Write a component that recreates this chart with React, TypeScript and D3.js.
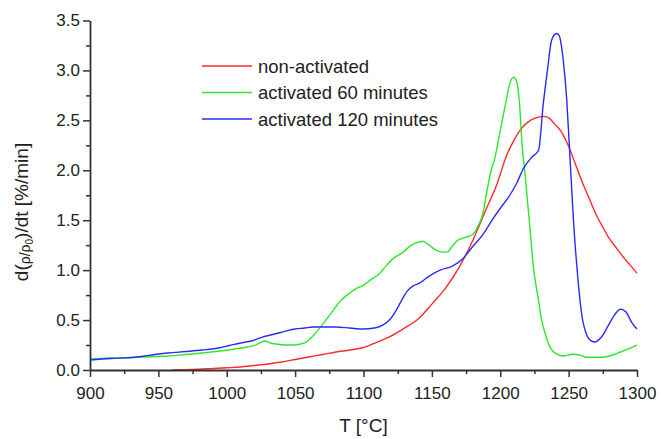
import React, { useEffect, useRef } from "react";
import * as d3 from "d3";

const xTicks = [900, 950, 1000, 1050, 1100, 1150, 1200, 1250, 1300];
const yTicks = [0, 0.5, 1.0, 1.5, 2.0, 2.5, 3.0, 3.5];
const seriesNames = ["non-activated", "activated 60 minutes", "activated 120 minutes"];
const seriesColors = ["#ff2a2a", "#2ae82a", "#2a2aff"];

const nonActivated: [number, number][] = [
  [960, 0], [975, 0.005], [990, 0.015], [1000, 0.022], [1010, 0.03], [1020, 0.045], [1030, 0.06],
  [1040, 0.08], [1050, 0.105], [1060, 0.13], [1070, 0.155], [1080, 0.18], [1090, 0.2], [1100, 0.225],
  [1110, 0.28], [1120, 0.34], [1130, 0.42], [1140, 0.51], [1150, 0.66], [1160, 0.82], [1170, 1.03],
  [1180, 1.3], [1190, 1.62], [1197, 1.84], [1205, 2.16], [1210, 2.3], [1215, 2.41], [1220, 2.48],
  [1225, 2.52], [1232, 2.54], [1236, 2.52], [1240, 2.46], [1244, 2.4], [1250, 2.24], [1255, 2.06],
  [1260, 1.88], [1265, 1.72], [1270, 1.56], [1275, 1.43], [1280, 1.31], [1285, 1.22], [1290, 1.13],
  [1295, 1.05], [1300, 0.97],
];

const activated60: [number, number][] = [
  [900, 0.11], [915, 0.12], [933, 0.127], [957, 0.14], [970, 0.155], [982, 0.17], [995, 0.19],
  [1006, 0.21], [1015, 0.23], [1021, 0.25], [1024, 0.27], [1028, 0.29], [1032, 0.27], [1036, 0.26],
  [1042, 0.25], [1049, 0.25], [1054, 0.26], [1058, 0.28], [1063, 0.34], [1068, 0.42], [1073, 0.51],
  [1078, 0.6], [1083, 0.69], [1088, 0.75], [1094, 0.81], [1100, 0.85], [1106, 0.91], [1112, 0.97],
  [1117, 1.05], [1122, 1.12], [1128, 1.17], [1134, 1.24], [1138, 1.27], [1143, 1.29], [1148, 1.25],
  [1153, 1.2], [1158, 1.18], [1161, 1.18], [1165, 1.24], [1169, 1.3], [1175, 1.33], [1180, 1.36],
  [1184, 1.45], [1187, 1.55], [1190, 1.77], [1193, 1.98], [1196, 2.12], [1200, 2.4], [1203.5, 2.64],
  [1207, 2.87], [1209.5, 2.93], [1212, 2.89], [1214, 2.68], [1216, 2.25], [1218, 1.98], [1220, 1.68],
  [1222, 1.38], [1224, 1.06], [1226, 0.86], [1228, 0.7], [1230, 0.52], [1232.7, 0.37], [1236, 0.24],
  [1239, 0.18], [1243, 0.15], [1246, 0.14], [1253, 0.157], [1258, 0.15], [1263, 0.127], [1273, 0.127],
  [1280, 0.14], [1284, 0.16], [1288, 0.18], [1295, 0.22], [1300, 0.25],
];

const activated120: [number, number][] = [
  [900, 0.1], [915, 0.115], [933, 0.127], [945, 0.15], [957, 0.17], [970, 0.185], [982, 0.2],
  [994, 0.22], [1002, 0.245], [1010, 0.27], [1018, 0.29], [1026, 0.33], [1035, 0.36], [1043, 0.39],
  [1050, 0.41], [1057, 0.42], [1063, 0.43], [1070, 0.43], [1080, 0.43], [1090, 0.42], [1100, 0.41],
  [1108, 0.42], [1114, 0.45], [1119, 0.5], [1124, 0.6], [1128, 0.7], [1132, 0.79], [1136, 0.84],
  [1141, 0.87], [1148, 0.94], [1156, 1.0], [1165, 1.04], [1173, 1.12], [1180, 1.24], [1187, 1.35],
  [1194, 1.5], [1200, 1.62], [1207, 1.75], [1212, 1.87], [1217, 2.02], [1223, 2.13], [1228, 2.2],
  [1231.5, 2.67], [1234.5, 3.0], [1237.5, 3.3], [1241, 3.37], [1243, 3.35], [1246, 3.11],
  [1248.6, 2.71], [1250.5, 2.25], [1252.5, 1.75], [1254, 1.4], [1256, 1.04], [1258.3, 0.7],
  [1260, 0.52], [1262, 0.4], [1265.6, 0.3], [1269, 0.28], [1274, 0.33], [1280, 0.47], [1284, 0.56],
  [1288, 0.61], [1292, 0.58], [1296, 0.48], [1300, 0.41],
];

const allSeries = [nonActivated, activated60, activated120];

const W = 661;
const H = 439;
const M = { left: 90, right: 24, top: 20.5, bottom: 69 };
const FONT = "Arial, 'Liberation Sans', sans-serif";

export default function App() {
  const xAxisRef = useRef<SVGGElement>(null);
  const yAxisRef = useRef<SVGGElement>(null);
  const xMinorRef = useRef<SVGGElement>(null);
  const yMinorRef = useRef<SVGGElement>(null);

  const x = d3.scaleLinear().domain([900, 1300]).range([M.left, W - M.right]);
  const y = d3.scaleLinear().domain([0, 3.5]).range([H - M.bottom, M.top]);

  const line = d3
    .line<[number, number]>()
    .x((d) => x(d[0]))
    .y((d) => y(d[1]))
    .curve(d3.curveMonotoneX);

  useEffect(() => {
    const style = (g: d3.Selection<SVGGElement, unknown, null, undefined>) => {
      g.selectAll("path.domain").attr("stroke", "#333").attr("stroke-width", 1.8);
      g.selectAll(".tick line").attr("stroke", "#333").attr("stroke-width", 1.5);
      g.selectAll(".tick text").attr("fill", "#222").attr("font-size", 17).attr("font-family", FONT);
    };
    const xMinorVals = d3.range(925, 1300, 50);
    const yMinorVals = d3.range(0.25, 3.5, 0.5);

    const gx = d3.select(xAxisRef.current!);
    gx.call(
      d3.axisBottom(x).tickValues(xTicks).tickSize(7).tickSizeOuter(0).tickPadding(10).tickFormat(d3.format("d"))
    );
    style(gx);
    gx.attr("font-family", FONT);

    const gxm = d3.select(xMinorRef.current!);
    gxm.call(d3.axisBottom(x).tickValues(xMinorVals).tickSize(4).tickSizeOuter(0).tickFormat(() => ""));
    style(gxm);
    gxm.select("path.domain").remove();

    const gy = d3.select(yAxisRef.current!);
    gy.call(
      d3.axisLeft(y).tickValues(yTicks).tickSize(7).tickSizeOuter(0).tickPadding(3).tickFormat(d3.format(".1f"))
    );
    style(gy);
    gy.attr("font-family", FONT);

    const gym = d3.select(yMinorRef.current!);
    gym.call(d3.axisLeft(y).tickValues(yMinorVals).tickSize(4).tickSizeOuter(0).tickFormat(() => ""));
    style(gym);
    gym.select("path.domain").remove();
  }, []);

  const legendX = 202;
  const legendY0 = 66;
  const legendDy = 26.5;

  return (
    <svg
      width={W}
      height={H}
      style={{ position: "absolute", left: 0, top: 0, background: "#fff" }}
      fontFamily={FONT}
    >
      <rect x={0} y={0} width={W} height={H} fill="#fff" />
      {allSeries.map((s, i) => (
        <path key={i} d={line(s) || ""} fill="none" stroke={seriesColors[i]} strokeWidth={1.4} />
      ))}
      <g ref={xMinorRef} transform={`translate(0,${H - M.bottom})`} />
      <g ref={yMinorRef} transform={`translate(${M.left},0)`} />
      <g ref={xAxisRef} transform={`translate(0,${H - M.bottom})`} />
      <g ref={yAxisRef} transform={`translate(${M.left},0)`} />

      {seriesNames.map((n, i) => (
        <g key={n}>
          <line
            x1={legendX}
            x2={legendX + 50}
            y1={legendY0 + i * legendDy}
            y2={legendY0 + i * legendDy}
            stroke={seriesColors[i]}
            strokeWidth={1.4}
          />
          <text x={legendX + 56} y={legendY0 + i * legendDy + 6.5} fontSize={18.5} fill="#222">
            {n}
          </text>
        </g>
      ))}

      <text x={(M.left + W - M.right) / 2} y={432} textAnchor="middle" fontSize={19} fill="#222">
        T [°C]
      </text>
      <text transform={`translate(28,212) rotate(-90)`} textAnchor="middle" fontSize={19} fill="#222">
        d(
        <tspan fontSize={14} dy={2}>ρ/ρ</tspan>
        <tspan fontSize={10} dy={3}>0</tspan>
        <tspan dy={-5}>)/dt [%/min]</tspan>
      </text>
    </svg>
  );
}
